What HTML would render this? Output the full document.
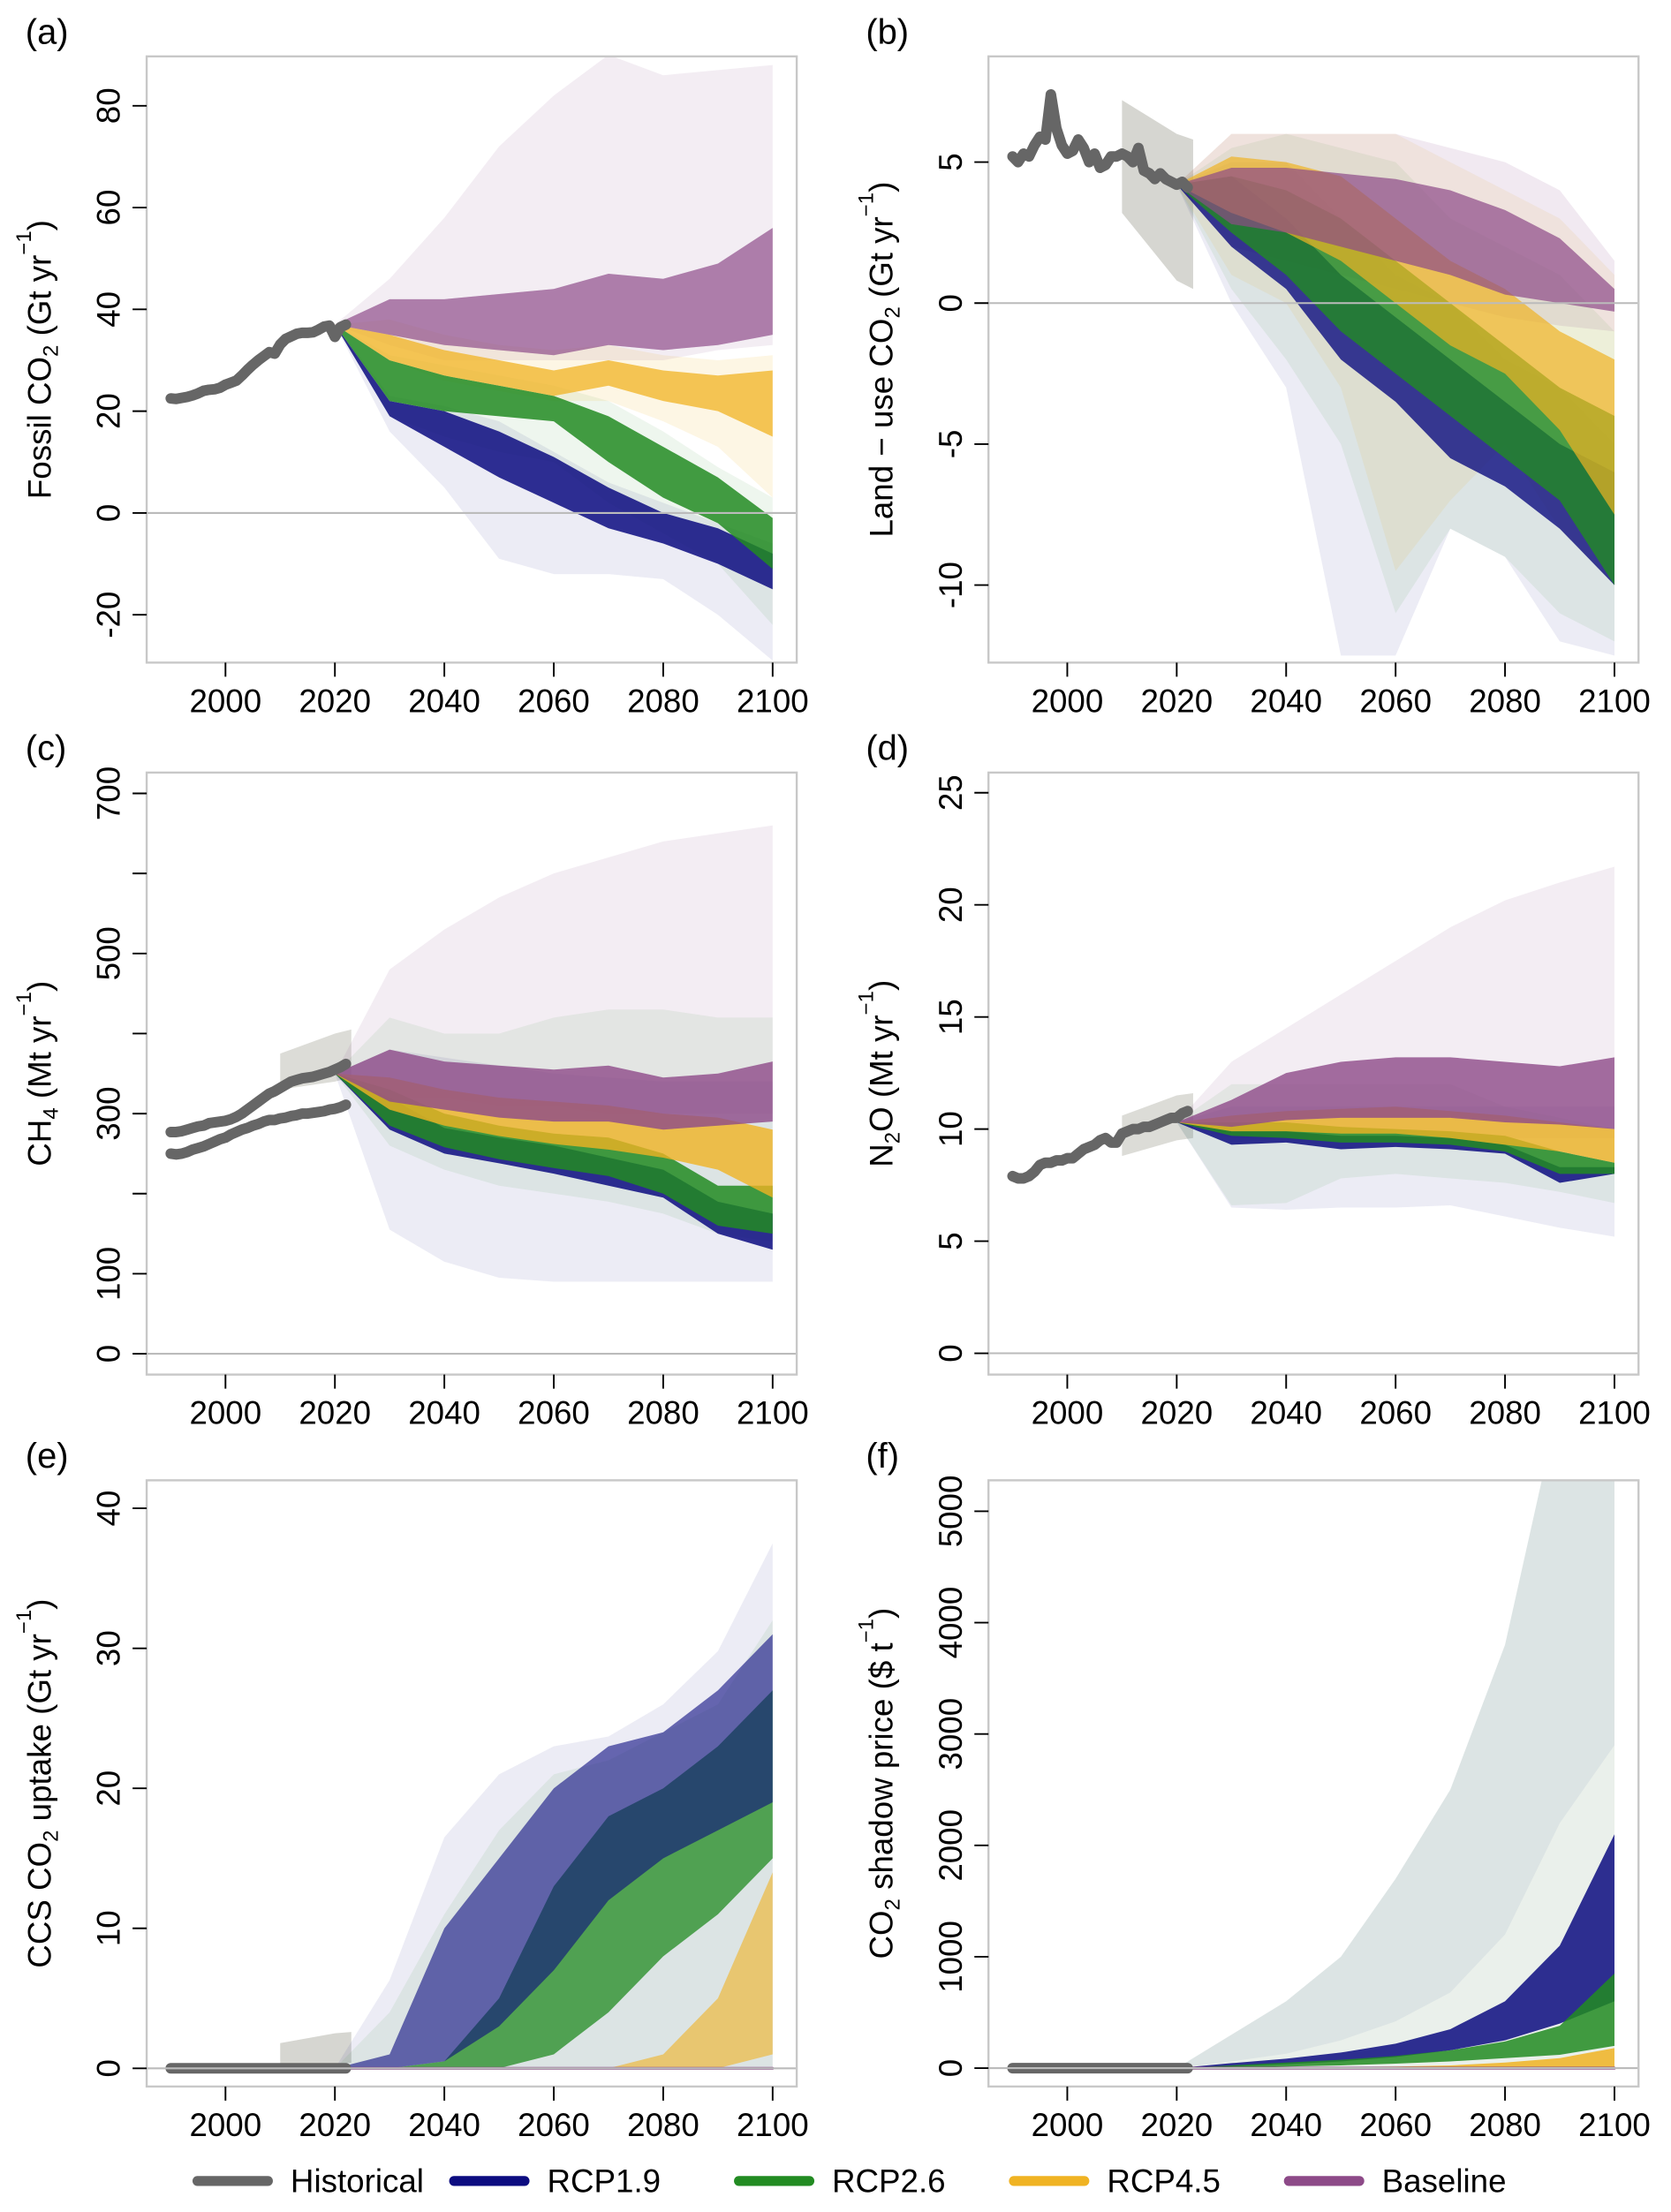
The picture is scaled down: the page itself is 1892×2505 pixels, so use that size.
<!DOCTYPE html>
<html><head><meta charset="utf-8"><style>
html,body{margin:0;padding:0;background:#fff}
svg{display:block}
text{font-family:"Liberation Sans",sans-serif;fill:#000}
</style></head><body>
<svg id="fig" width="1892" height="2505" viewBox="0 0 1185 1569" xmlns="http://www.w3.org/2000/svg"></svg>
<script>
// ---------- DATA ----------
const decades = [2020,2030,2040,2050,2060,2070,2080,2090,2100];
const earlyYears = [2010,2020,2023];
const histYears = [1990,1991,1992,1993,1994,1995,1996,1997,1998,1999,2000,2001,2002,2003,2004,2005,2006,2007,2008,2009,2010,2011,2012,2013,2014,2015,2016,2017,2018,2019,2020,2021,2022];

// (a) fossil CO2
const aHist = [22.5,22.4,22.6,22.8,23.1,23.5,24,24.2,24.3,24.6,25.2,25.6,26,27,28.1,29.1,30,30.8,31.6,31.3,33.1,34.2,34.7,35.2,35.4,35.4,35.5,36,36.6,36.8,34.6,36.5,37];
const aBaseOutLo = [37,33,30,30,30,30,30,32,33];
const aBaseOutHi = [37,46,58,72,82,90,86,87,88];
const aBaseCoreLo = [37,35,33,32,31,33,32,33,35];
const aBaseCoreHi = [37,42,42,43,44,47,46,49,56];
const a45OutLo = [37,30,26,24,22,22,18,13,3];
const a45OutHi = [37,38,35,33,32,33,31,30,31];
const a45CoreLo = [37,30,27,25,23,25,22,20,15];
const a45CoreHi = [37,35,32,30,28,30,28,27,28];
const a26OutLo = [37,19,15,12,10,2,-4,-10,-22];
const a26OutHi = [37,31,29,27,25,22,16,9,3];
const a26CoreLo = [37,22,20,19,18,10,3,-2,-11];
const a26CoreHi = [37,30,27,25,23,19,13,7,-1];
const a19OutLo = [37,16,5,-9,-12,-12,-13,-20,-29];
const a19OutHi = [37,23,21,18,12,6,2,-2,-6];
const a19CoreLo = [37,19,13,7,2,-3,-6,-10,-15];
const a19CoreHi = [37,22,20,16,11,5,0,-3,-8];

// (b) land-use CO2
const bHist = [5.2,5.0,5.3,5.2,5.6,5.9,5.8,7.4,6.2,5.6,5.3,5.4,5.8,5.5,5.0,5.3,4.8,4.9,5.2,5.2,5.3,5.2,5.0,5.5,4.7,4.6,4.4,4.6,4.4,4.3,4.2,4.3,4.1];
const bGreyLo = [3.2,0.8,0.5];
const bGreyHi = [7.2,6.0,5.8];
const bBaseOutLo = [4.2,2,1.5,1,0.5,0,-0.5,-0.8,-1];
const bBaseOutHi = [4.2,6,6,6,6,5.5,5,4,1.5];
const bBaseCoreLo = [4.2,2.8,2.5,2,1.5,1,0.3,0,-0.3];
const bBaseCoreHi = [4.2,4.8,4.8,4.6,4.4,4,3.3,2.3,0.5];
const b45OutLo = [4.2,1,0,-3,-9.5,-7,-5,-8,-10];
const b45OutHi = [4.2,6,6,6,6,5,4,3,1];
const b45CoreLo = [4.2,3.2,2.5,1.5,0,-1.5,-2.5,-4.5,-7.5];
const b45CoreHi = [4.2,5.2,5,4.5,3,1.5,0.5,-1,-2];
const b26OutLo = [4.2,0.5,-2,-5,-11,-8,-9,-11,-12];
const b26OutHi = [4.2,5.5,6,5.5,5,3,2,1,-1];
const b26CoreLo = [4.2,2.5,1,-1,-2.5,-4,-5.5,-7,-10];
const b26CoreHi = [4.2,4.5,4,3,1.5,0,-1.5,-3,-4];
const b19OutLo = [4.2,0,-3,-12.5,-12.5,-8,-9,-12,-12.5];
const b19OutHi = [4.2,5,5,3,1,0,-2,-3,-5];
const b19CoreLo = [4.2,2,0.5,-2,-3.5,-5.5,-6.5,-8,-10];
const b19CoreHi = [4.2,4.5,3,1,-0.5,-2,-3.5,-5,-6];

// (c) CH4
const cHistUp = [277,277,278,280,282,284,285,288,289,290,291,293,296,300,305,310,315,320,325,328,332,336,340,342,344,345,346,348,350,352,355,358,362];
const cHistLo = [250,249,250,252,255,257,259,262,265,268,270,274,277,280,282,285,287,290,292,292,294,295,297,298,300,300,301,302,303,305,306,308,311];
const cGreyLo = [330,340,345];
const cGreyHi = [375,400,405];
const cBaseOutLo = [350,320,320,310,310,300,300,300,300];
const cBaseOutHi = [350,480,530,570,600,620,640,650,660];
const cBaseCoreLo = [350,315,305,295,290,290,280,285,290];
const cBaseCoreHi = [350,380,365,360,355,360,345,350,365];
const c45CoreLo = [350,305,285,272,262,255,245,230,195];
const c45CoreHi = [350,345,330,320,315,310,300,295,280];
const c26OutLo = [350,260,230,210,200,190,175,150,140];
const c26OutHi = [350,420,400,400,420,430,430,420,420];
const c26CoreLo = [350,285,258,243,232,222,200,160,150];
const c26CoreHi = [350,330,300,285,275,270,250,210,210];
const c19OutLo = [350,155,115,95,90,90,90,90,90];
const c19OutHi = [350,380,370,360,350,345,340,340,340];
const c19CoreLo = [350,280,250,238,225,210,195,150,130];
const c19CoreHi = [350,320,282,270,260,245,230,190,175];

// (d) N2O
const dHist = [7.9,7.8,7.8,7.9,8.1,8.4,8.5,8.5,8.6,8.6,8.7,8.7,8.9,9.1,9.2,9.3,9.5,9.6,9.4,9.4,9.8,9.9,10,10,10.1,10.1,10.2,10.3,10.4,10.5,10.5,10.7,10.8];
const dGreyLo = [8.8,9.5,9.6];
const dGreyHi = [10.6,11.5,11.6];
const dBaseOutLo = [10.3,9.6,9.6,9.6,9.6,9.6,9.6,9.6,9.6];
const dBaseOutHi = [10.3,13,14.5,16,17.5,19,20.2,21,21.7];
const dBaseCoreLo = [10.3,10.1,10.4,10.5,10.5,10.5,10.3,10.2,10];
const dBaseCoreHi = [10.3,11.3,12.5,13,13.2,13.2,13,12.8,13.2];
const d45CoreLo = [10.3,9.9,9.9,9.8,9.8,9.6,9.3,9,8.5];
const d45CoreHi = [10.3,10.6,10.8,10.9,11,10.8,10.6,10.3,10];
const d26OutLo = [10.3,6.6,6.7,7.8,8,7.8,7.6,7.2,6.7];
const d26OutHi = [10.3,12,12,12,12,12,11,10.5,10];
const d26CoreLo = [10.3,9.7,9.6,9.4,9.4,9.3,9,8,8];
const d26CoreHi = [10.3,10.3,10.3,10.1,10,9.9,9.7,9,8.5];
const d19OutLo = [10.3,6.5,6.4,6.5,6.5,6.6,6.1,5.6,5.2];
const d19OutHi = [10.3,11,11,11,11,11,11,11,11];
const d19CoreLo = [10.3,9.3,9.4,9.1,9.2,9.1,8.9,7.6,8];
const d19CoreHi = [10.3,9.9,9.9,9.7,9.7,9.6,9.3,8.3,8.3];

// (e) CCS uptake
const eHist = [0,0,0,0,0,0,0,0,0,0,0,0,0,0,0,0,0,0,0,0,0,0,0,0,0,0,0,0,0,0,0,0,0];
const eGreyLo = [0,0.3,0.4];
const eGreyHi = [1.8,2.5,2.6];
const e19OutLo = [0,0,0,0,0,0,0,0,0];
const e19OutHi = [0,6.3,16.5,21,23,23.7,26,29.8,37.5];
const e19CoreLo = [0,0,0.5,3,7,12,15,17,19];
const e19CoreHi = [0,1,10,15,20,23,24,27,31];
const e26OutHi = [0,4,11,17,21,22,24,26,32];
const e26CoreLo = [0,0,0,0,1,4,8,11,15];
const e26CoreHi = [0,0,0.5,5,13,18,20,23,27];
const e45CoreLo = [0,0,0,0,0,0,0,0,1];
const e45CoreHi = [0,0,0,0,0,0,1,5,14];
const eBase = [0,0,0,0,0,0,0,0,0];

// (f) CO2 shadow price
const fHist = [0,0,0,0,0,0,0,0,0,0,0,0,0,0,0,0,0,0,0,0,0,0,0,0,0,0,0,0,0,0,0,0,0];
const fOutHi = [0,300,600,1000,1700,2500,3800,6000,6000];
const fOutLo = [0,0,0,0,0,0,0,0,0];
const f19MidHi = [0,60,130,250,420,680,1200,2200,2900];
const f19CoreLo = [0,15,35,60,100,160,250,400,600];
const f19CoreHi = [0,45,85,140,220,350,600,1100,2100];
const f26CoreLo = [0,5,15,25,40,60,90,120,200];
const f26CoreHi = [0,25,50,75,110,160,240,380,850];
const f45CoreLo = [0,0,0,0,0,0,0,0,0];
const f45CoreHi = [0,3,6,10,15,25,50,90,180];
const fBase = [0,0,0,0,0,0,0,0,0];

// Tick labels
const xTicks = [2000,2020,2040,2060,2080,2100];
const aYTicks = [-20,0,20,40,60,80];
const bYTicks = [-10,-5,0,5];
const cYTicks = [0,100,200,300,400,500,600,700];
const cYLabels = ["0","100","","300","","500","","700"];
const dYTicks = [0,5,10,15,20,25];
const eYTicks = [0,10,20,30,40];
const fYTicks = [0,1000,2000,3000,4000,5000];

// ---------- DRAWING ----------
const NS = "http://www.w3.org/2000/svg";
const svg = document.getElementById('fig');
const COL = {hist:'#666666', r19:'#0c0c80', r26:'#228b22', r45:'#f0b323', base:'#8d4a88', grey:'#8a8a7a'};
function mk(tag, attrs, parent){const e=document.createElementNS(NS,tag);for(const k in attrs)e.setAttribute(k,attrs[k]);(parent||svg).appendChild(e);return e;}

function makePanel(x0,x1,y0,y1,ymin,ymax,name){
  const g = mk('g',{});
  
  
  const xmin=1985.6,xmax=2104.4;
  const sx = v => x0 + (v-xmin)/(xmax-xmin)*(x1-x0);
  const sy = v => y1 - (v-ymin)/(ymax-ymin)*(y1-y0);
  const clipId = 'clip-'+name;
  const defs = mk('defs',{},g);
  const cp = mk('clipPath',{id:clipId},defs);
  mk('rect',{x:x0,y:y0,width:x1-x0,height:y1-y0},cp);
  const plot = mk('g',{'clip-path':'url(#'+clipId+')'},g);
  return {g,plot,sx,sy,x0,x1,y0,y1};
}
function band(p, xs, lo, hi, color, op, name){
  let d='M'+xs.map((x,i)=>p.sx(x)+','+p.sy(hi[i])).join('L');
  for(let i=xs.length-1;i>=0;i--) d+='L'+p.sx(xs[i])+','+p.sy(lo[i]);
  d+='Z';
  const e = mk('path',{d:d,fill:color,'fill-opacity':op,stroke:'none'},p.plot);
  
  
  return e;
}
function line(p, xs, ys, color, w, name, parent){
  const d='M'+xs.map((x,i)=>p.sx(x)+','+p.sy(ys[i])).join('L');
  const e = mk('path',{d:d,fill:'none',stroke:color,'stroke-width':w,'stroke-linejoin':'round','stroke-linecap':'round'},parent||p.plot);
  
  
  return e;
}
function axes(p, yticks, ylabels, letter, lx, titleParts){
  const g=p.g;
  mk('line',{x1:p.x0,x2:p.x1,y1:p.sy(0),y2:p.sy(0),stroke:'#bbb','stroke-width':1.3},g);
  const box = mk('rect',{x:p.x0,y:p.y0,width:p.x1-p.x0,height:p.y1-p.y0,fill:'none',stroke:'#c8c8c8','stroke-width':1.5},g);
  
  
  xTicks.forEach(t=>{
    const x=p.sx(t);
    mk('line',{x1:x,x2:x,y1:p.y1,y2:p.y1+10,stroke:'#000','stroke-width':1.2},g);
    const tx=mk('text',{x:x,y:p.y1+35,'text-anchor':'middle','font-size':23},g);
    tx.textContent=t;
    
    
  });
  yticks.forEach((t,i)=>{
    const y=p.sy(t);
    mk('line',{x1:p.x0-10,x2:p.x0,y1:y,y2:y,stroke:'#000','stroke-width':1.2},g);
    const lab = ylabels?ylabels[i]:String(t);
    if(lab){
      const tx=mk('text',{x:0,y:0,'text-anchor':'middle','font-size':23,transform:'translate('+(p.x0-19)+','+y+') rotate(-90)'},g);
      tx.textContent=lab;
      
      
    }
  });
  const pl=mk('text',{x:lx,y:p.y0-9,'font-size':25},g);
  pl.textContent=letter;
  
  
  const cy=(p.y0+p.y1)/2;
  const tt=mk('text',{x:0,y:0,'text-anchor':'middle','font-size':23,transform:'translate('+(p.x0-68)+','+cy+') rotate(-90)'},g);
  
  
  titleParts.forEach(pt=>{
    const s=mk('tspan',{},tt);
    if(pt[1]==='sub'){s.setAttribute('font-size',15);s.setAttribute('dy',5);}
    else if(pt[1]==='sup'){s.setAttribute('font-size',15);s.setAttribute('dy',-14);}
    else if(pt[1]==='back'){s.setAttribute('dy',pt[2]);}
    s.textContent=pt[0];
  });
}

// Panel (a)
(function(){
  const p=makePanel(104,565,40,470,-29.4,89.7,'panel-a-fossil-co2');
  band(p,decades,a19OutLo,a19OutHi,COL.r19,0.08,'rcp19-range');
  band(p,decades,a26OutLo,a26OutHi,COL.r26,0.08,'rcp26-range');
  band(p,decades,a45OutLo,a45OutHi,COL.r45,0.12,'rcp45-range');
  band(p,decades,aBaseOutLo,aBaseOutHi,COL.base,0.1,'baseline-range');
  band(p,decades,aBaseCoreLo,aBaseCoreHi,COL.base,0.3,'baseline-spread');
  band(p,decades,a19CoreLo,a19CoreHi,COL.r19,0.85,'rcp19-band');
  band(p,decades,a26CoreLo,a26CoreHi,COL.r26,0.85,'rcp26-band');
  band(p,decades,a45CoreLo,a45CoreHi,COL.r45,0.75,'rcp45-band');
  band(p,decades,aBaseCoreLo,aBaseCoreHi,COL.base,0.55,'baseline-band');
  line(p,histYears,aHist,COL.hist,7.5,'historical-line');
  axes(p,aYTicks,null,'(a)',18,[['Fossil CO'],['2','sub'],[' (Gt yr','back',-5],['−1','sup'],[')','back',14]]);
})();

// Panel (b)
(function(){
  const p=makePanel(701,1162,40,470,-12.75,8.75,'panel-b-land-use-co2');
  band(p,earlyYears,bGreyLo,bGreyHi,COL.grey,0.35,'scenario-start-range');
  band(p,decades,b19OutLo,b19OutHi,COL.r19,0.08,'rcp19-range');
  band(p,decades,b26OutLo,b26OutHi,COL.r26,0.08,'rcp26-range');
  band(p,decades,b45OutLo,b45OutHi,COL.r45,0.1,'rcp45-range');
  band(p,decades,bBaseOutLo,bBaseOutHi,COL.base,0.12,'baseline-range');
  band(p,decades,b19CoreLo,b19CoreHi,COL.r19,0.8,'rcp19-band');
  band(p,decades,b26CoreLo,b26CoreHi,COL.r26,0.8,'rcp26-band');
  band(p,decades,b45CoreLo,b45CoreHi,COL.r45,0.7,'rcp45-band');
  band(p,decades,bBaseCoreLo,bBaseCoreHi,COL.base,0.7,'baseline-band');
  line(p,histYears,bHist,COL.hist,7.5,'historical-line');
  axes(p,bYTicks,null,'(b)',614,[['Land − use CO'],['2','sub'],[' (Gt yr','back',-5],['−1','sup'],[')','back',14]]);
})();

// Panel (c)
(function(){
  const p=makePanel(104,565,548,975,-26,726,'panel-c-ch4');
  band(p,earlyYears,cGreyLo,cGreyHi,COL.grey,0.3,'scenario-start-range');
  band(p,decades,c19OutLo,c19OutHi,COL.r19,0.08,'rcp19-range');
  band(p,decades,c26OutLo,c26OutHi,COL.r26,0.08,'rcp26-range');
  band(p,decades,cBaseOutLo,cBaseOutHi,COL.base,0.1,'baseline-range');
  band(p,decades,c19CoreLo,c19CoreHi,COL.r19,0.85,'rcp19-band');
  band(p,decades,c26CoreLo,c26CoreHi,COL.r26,0.85,'rcp26-band');
  band(p,decades,c45CoreLo,c45CoreHi,COL.r45,0.8,'rcp45-band');
  band(p,decades,cBaseCoreLo,cBaseCoreHi,COL.base,0.8,'baseline-band');
  line(p,histYears,cHistUp,COL.hist,7.5,'historical-line-upper');
  line(p,histYears,cHistLo,COL.hist,7.5,'historical-line-lower');
  axes(p,cYTicks,cYLabels,'(c)',18,[['CH'],['4','sub'],[' (Mt yr','back',-5],['−1','sup'],[')','back',14]]);
})();

// Panel (d)
(function(){
  const p=makePanel(701,1162,548,975,-0.95,25.9,'panel-d-n2o');
  band(p,earlyYears,dGreyLo,dGreyHi,COL.grey,0.3,'scenario-start-range');
  band(p,decades,d19OutLo,d19OutHi,COL.r19,0.08,'rcp19-range');
  band(p,decades,d26OutLo,d26OutHi,COL.r26,0.08,'rcp26-range');
  band(p,decades,dBaseOutLo,dBaseOutHi,COL.base,0.1,'baseline-range');
  band(p,decades,d19CoreLo,d19CoreHi,COL.r19,0.85,'rcp19-band');
  band(p,decades,d26CoreLo,d26CoreHi,COL.r26,0.85,'rcp26-band');
  band(p,decades,d45CoreLo,d45CoreHi,COL.r45,0.8,'rcp45-band');
  band(p,decades,dBaseCoreLo,dBaseCoreHi,COL.base,0.8,'baseline-band');
  line(p,histYears,dHist,COL.hist,7.5,'historical-line');
  axes(p,dYTicks,null,'(d)',614,[['N'],['2','sub'],['O (Mt yr','back',-5],['−1','sup'],[')','back',14]]);
})();

// Panel (e)
(function(){
  const p=makePanel(104,565,1050,1480,-1.3,42,'panel-e-ccs-uptake');
  band(p,earlyYears,eGreyLo,eGreyHi,COL.grey,0.35,'scenario-start-range');
  band(p,decades,e19OutLo,e19OutHi,COL.r19,0.08,'rcp19-range');
  band(p,decades,e19OutLo,e26OutHi,COL.r26,0.08,'rcp26-range');
  band(p,decades,e26CoreLo,e26CoreHi,COL.r26,0.75,'rcp26-band');
  band(p,decades,e19CoreLo,e19CoreHi,COL.r19,0.6,'rcp19-band');
  band(p,decades,e45CoreLo,e45CoreHi,COL.r45,0.6,'rcp45-band');
  line(p,decades,eBase,COL.base,2,'baseline-line');
  line(p,histYears,eHist,COL.hist,7.5,'historical-line');
  axes(p,eYTicks,null,'(e)',18,[['CCS CO'],['2','sub'],[' uptake (Gt yr','back',-5],['−1','sup'],[')','back',14]]);
})();

// Panel (f)
(function(){
  const p=makePanel(701,1162,1050,1480,-165,5278,'panel-f-co2-price');
  band(p,decades,fOutLo,fOutHi,'#b9c9c9',0.5,'price-range');
  band(p,decades,fOutLo,f19MidHi,'#eef3ec',0.8,'rcp19-range');
  band(p,decades,f19CoreLo,f19CoreHi,COL.r19,0.85,'rcp19-band');
  band(p,decades,f26CoreLo,f26CoreHi,COL.r26,0.85,'rcp26-band');
  band(p,decades,f45CoreLo,f45CoreHi,COL.r45,0.85,'rcp45-band');
  line(p,decades,fBase,COL.base,2,'baseline-line');
  line(p,histYears,fHist,COL.hist,7.5,'historical-line');
  axes(p,fYTicks,null,'(f)',614,[['CO'],['2','sub'],[' shadow price ($ t','back',-5],['−1','sup'],[')','back',14]]);
})();

// Legend
const legendNames = ['Historical','RCP1.9','RCP2.6','RCP4.5','Baseline'];
const legendColors = [COL.hist,COL.r19,COL.r26,COL.r45,COL.base];
const legendX = [140,322,524,719,914];
const lg = mk('g',{});


legendNames.forEach((n,i)=>{
  const ent = mk('g',{},lg);
  
  
  mk('line',{x1:legendX[i],x2:legendX[i]+50,y1:1547,y2:1547,stroke:legendColors[i],'stroke-width':7,'stroke-linecap':'round'},ent);
  const t = mk('text',{x:legendX[i]+66,y:1555,'font-size':23},ent);
  t.textContent=n;
});
</script>
</body></html>
